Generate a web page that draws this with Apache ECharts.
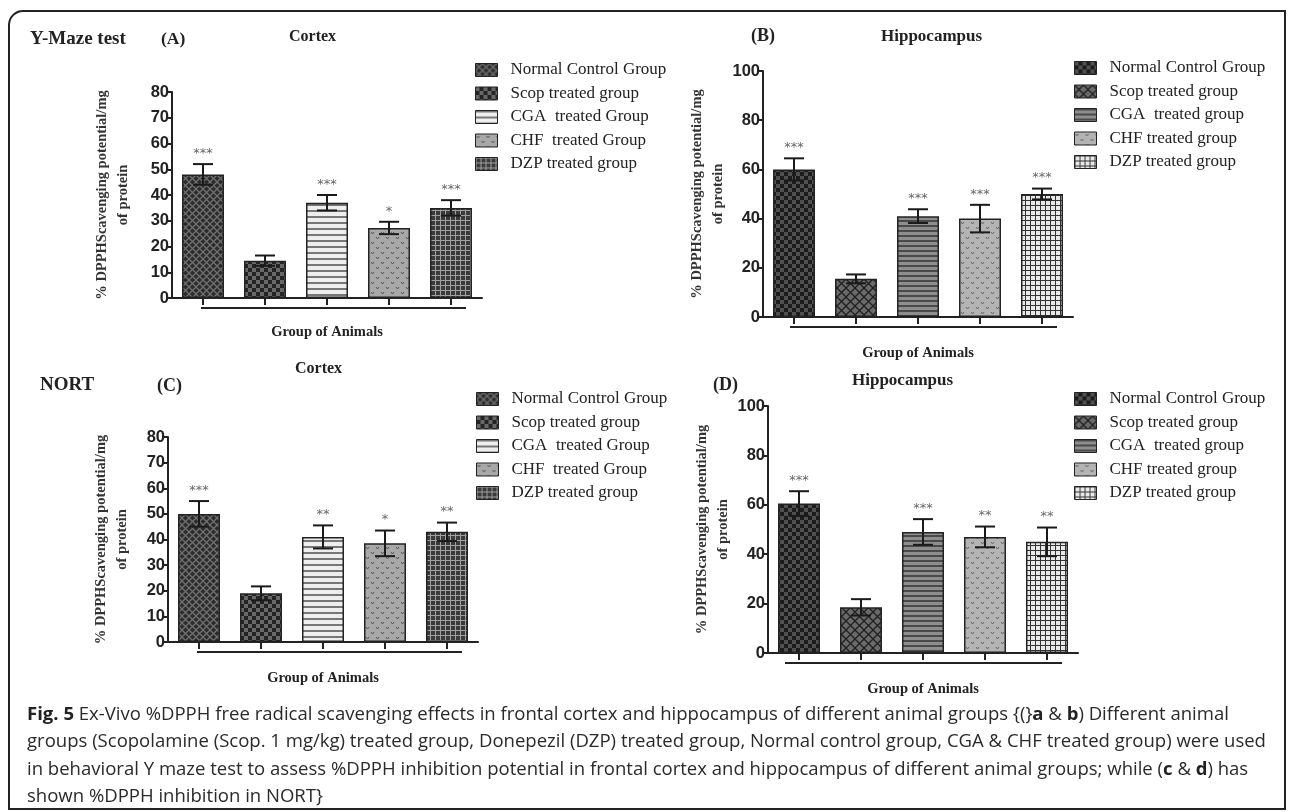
<!DOCTYPE html>
<html>
<head>
<meta charset="utf-8">
<script src="https://cdn.jsdelivr.net/npm/echarts@6/dist/echarts.min.js"></script>
<style>
  html, body { margin: 0; background: #fff; }
  #chart { width: 1295px; height: 812px; }
</style>
</head>
<body>
<div id="chart"></div>
<script>
// group names as printed in each legend
const cortexGroups = ['Normal Control Group', 'Scop treated group', 'CGA  treated Group', 'CHF  treated Group', 'DZP treated group'];
const hippoGroups = ['Normal Control Group', 'Scop treated group', 'CGA  treated group', 'CHF treated group', 'DZP treated group'];

// (A) Y-maze, cortex
const ymazeCortexMean = [48, 14.5, 37, 27.2, 35];
const ymazeCortexErr = [4, 2, 3, 2.4, 3];
const ymazeCortexSig = ['***', '', '***', '*', '***'];
// (B) Y-maze, hippocampus
const ymazeHippoMean = [60, 15.5, 41, 40, 50];
const ymazeHippoErr = [4.5, 1.8, 2.8, 5.6, 2.2];
const ymazeHippoSig = ['***', '', '***', '***', '***'];
// (C) NORT, cortex
const nortCortexMean = [50, 19, 41, 38.5, 43];
const nortCortexErr = [5, 2.7, 4.5, 5, 3.6];
const nortCortexSig = ['***', '', '**', '*', '**'];
// (D) NORT, hippocampus
const nortHippoMean = [60.5, 18.5, 49, 47, 45];
const nortHippoErr = [5, 3.3, 5.2, 4.2, 5.8];
const nortHippoSig = ['***', '', '***', '**', '**'];

const cortexTicks = {max: 80, interval: 10};
const hippoTicks = {max: 100, interval: 20};

const captionLines = [
  '{b|Fig. 5} Ex-Vivo %DPPH free radical scavenging effects in frontal cortex and hippocampus of different animal groups {(}{b|a} & {b|b}) Different animal',
  'groups (Scopolamine (Scop. 1 mg/kg) treated group, Donepezil (DZP) treated group, Normal control group, CGA & CHF treated group) were used',
  'in behavioral Y maze test to assess %DPPH inhibition potential in frontal cortex and hippocampus of different animal groups; while ({b|c} & {b|d}) has',
  'shown %DPPH inhibition in NORT}'
];

// --- fill patterns drawn on small canvases ---
function pat(w, h, draw) {
  const c = document.createElement('canvas');
  c.width = w; c.height = h;
  const g = c.getContext('2d');
  draw(g, w, h);
  return {image: c, repeat: 'repeat'};
}
const crosshatch = (bg, fg, s) => pat(s, s, (g) => {
  g.fillStyle = bg; g.fillRect(0, 0, s, s);
  g.strokeStyle = fg; g.lineWidth = 1.3;
  g.beginPath();
  g.moveTo(0, 0); g.lineTo(s, s);
  g.moveTo(s, 0); g.lineTo(0, s);
  g.stroke();
});
const checker = (a, b, s) => pat(2 * s, 2 * s, (g) => {
  g.fillStyle = a; g.fillRect(0, 0, 2 * s, 2 * s);
  g.fillStyle = b; g.fillRect(0, 0, s, s); g.fillRect(s, s, s, s);
});
const hstripe = (bg, fg, p, lw) => pat(4, p, (g) => {
  g.fillStyle = bg; g.fillRect(0, 0, 4, p);
  g.fillStyle = fg; g.fillRect(0, 0, 4, lw);
});
const vdots = (bg, fg) => pat(10, 10, (g) => {
  g.fillStyle = bg; g.fillRect(0, 0, 10, 10);
  g.strokeStyle = fg; g.lineWidth = 1;
  g.beginPath();
  g.moveTo(1, 2); g.lineTo(2.5, 4); g.lineTo(4, 2);
  g.moveTo(6, 7); g.lineTo(7.5, 9); g.lineTo(9, 7);
  g.stroke();
});
const grid = (bg, fg, s) => pat(s, s, (g) => {
  g.fillStyle = bg; g.fillRect(0, 0, s, s);
  g.fillStyle = fg; g.fillRect(0, 0, s, 1); g.fillRect(0, 0, 1, s);
});

const cortexFills = [
  crosshatch('#2c2c2c', '#707070', 7),
  checker('#242424', '#686868', 4),
  hstripe('#eeeeee', '#777777', 6, 2),
  vdots('#a8a8a8', '#555555'),
  grid('#3a3a3a', '#a0a0a0', 5)
];
const hippoFills = [
  checker('#1c1c1c', '#505050', 4),
  crosshatch('#6a6a6a', '#202020', 9),
  hstripe('#8e8e8e', '#4a4a4a', 5, 2),
  vdots('#b4b4b4', '#666666'),
  grid('#e8e8e8', '#333333', 5)
];

const panels = [
  {names: cortexGroups, fills: cortexFills, mean: ymazeCortexMean, err: ymazeCortexErr, sig: ymazeCortexSig, ticks: cortexTicks,
   grid: {left: 172, top: 92, width: 310, height: 206}, legend: {left: 475, top: 61}, nameGap: 38, ulLeft: 2},
  {names: hippoGroups, fills: hippoFills, mean: ymazeHippoMean, err: ymazeHippoErr, sig: ymazeHippoSig, ticks: hippoTicks,
   grid: {left: 763, top: 71, width: 310, height: 246}, legend: {left: 1074, top: 59}, nameGap: 31, ulLeft: 4},
  {names: cortexGroups, fills: cortexFills, mean: nortCortexMean, err: nortCortexErr, sig: nortCortexSig, ticks: cortexTicks,
   grid: {left: 168, top: 437, width: 310, height: 205}, legend: {left: 476, top: 390}, nameGap: 35, ulLeft: 2},
  {names: hippoGroups, fills: hippoFills, mean: nortHippoMean, err: nortHippoErr, sig: nortHippoSig, ticks: hippoTicks,
   grid: {left: 768, top: 406, width: 310, height: 247}, legend: {left: 1074, top: 390}, nameGap: 31, ulLeft: 14}
];

const ink = '#222';
const serif = 'Liberation Serif';
const yName = '% DPPHScavenging potential/mg\nof protein';

const grids = [], xAxes = [], yAxes = [], legends = [], series = [];
panels.forEach((p, k) => {
  grids.push(p.grid);
  xAxes.push({
    type: 'category', gridIndex: k, data: p.names,
    axisLine: {lineStyle: {color: ink, width: 2}},
    axisTick: {show: true, interval: 0, alignWithLabel: true, length: 7, lineStyle: {color: ink, width: 2}},
    axisLabel: {show: false, interval: 0},
    name: 'Group of Animals', nameLocation: 'middle', nameGap: k === 0 ? 27 : 29,
    nameTextStyle: {fontFamily: serif, fontWeight: 'bold', fontSize: 14.5, color: ink}
  });
  yAxes.push({
    type: 'value', gridIndex: k, min: 0, max: p.ticks.max, interval: p.ticks.interval,
    axisLine: {show: true, lineStyle: {color: ink, width: 2}},
    axisTick: {show: true, length: 5, lineStyle: {color: ink, width: 2}},
    splitLine: {show: false},
    axisLabel: {fontFamily: 'Liberation Sans', fontWeight: 'bold', fontSize: 16.5, color: ink, margin: 3},
    name: yName, nameLocation: 'middle', nameRotate: 90, nameGap: p.nameGap,
    nameTextStyle: {fontFamily: serif, fontWeight: 'bold', fontSize: 14.5, lineHeight: 21, color: '#333'}
  });
  legends.push({
    orient: 'vertical', left: p.legend.left, top: p.legend.top, padding: 0,
    itemWidth: 22, itemHeight: 13, itemGap: 5.5, selectedMode: false, icon: 'rect',
    textStyle: {fontFamily: serif, fontSize: 17, lineHeight: 18, color: ink, padding: [0, 0, 0, 8]},
    data: p.names.map((n, i) => ({name: n, itemStyle: {color: p.fills[i], borderColor: ink, borderWidth: 1}}))
  });
  p.names.forEach((n, i) => {
    series.push({
      type: 'bar', name: n, xAxisIndex: k, yAxisIndex: k, barWidth: 42, barGap: '-100%', silent: true,
      data: p.mean.map((v, j) => (j === i ? v : '-')),
      itemStyle: {color: p.fills[i], borderColor: ink, borderWidth: 1.5}
    });
  });
  series.push({
    type: 'custom', xAxisIndex: k, yAxisIndex: k, z: 10, silent: true,
    data: p.mean.map((v, j) => [j, v, p.err[j]]),
    renderItem: (params, api) => {
      const x = api.value(0), m = api.value(1), e = api.value(2);
      const top = api.coord([x, m + e]);
      const bot = api.coord([x, m - e]);
      const hw = 10;
      const st = {stroke: '#1a1a1a', lineWidth: 2};
      return {type: 'group', children: [
        {type: 'line', shape: {x1: top[0], y1: top[1], x2: bot[0], y2: bot[1]}, style: st},
        {type: 'line', shape: {x1: top[0] - hw, y1: top[1], x2: top[0] + hw, y2: top[1]}, style: st},
        {type: 'line', shape: {x1: bot[0] - hw, y1: bot[1], x2: bot[0] + hw, y2: bot[1]}, style: st},
        {type: 'text', style: {text: p.sig[params.dataIndex], x: top[0], y: top[1] - 4,
          align: 'center', verticalAlign: 'bottom', fill: '#666', font: '13px "DejaVu Sans"'}}
      ]};
    }
  });
});

const chart = echarts.init(document.getElementById('chart'), null, {renderer: 'canvas'});
chart.setOption({
  backgroundColor: '#fff',
  animation: false,
  grid: grids, xAxis: xAxes, yAxis: yAxes, legend: legends, series: series
});

const title = (text, x, y, size) => ({
  type: 'text', left: x, top: y - size * 0.6,
  style: {text: text, font: 'bold ' + size + 'px "' + serif + '"', fill: ink}
});

// caption size chosen so the longest line spans the frame like the original
const meas = document.createElement('canvas').getContext('2d');
meas.font = '100px "Open Sans"';
const capSize = 100 * 1240 / meas.measureText(captionLines[1]).width;

const graphics = [
  {type: 'rect', shape: {x: 9, y: 11, width: 1276, height: 798, r: [14, 0, 0, 0]},
   style: {fill: 'none', stroke: ink, lineWidth: 2}, silent: true},
  title('Y-Maze test', 30, 41, 19),
  title('(A)', 161, 41, 17.5),
  title('Cortex', 289, 38, 16),
  title('(B)', 751, 38, 18),
  title('Hippocampus', 881, 38, 17),
  title('NORT', 40, 387, 19),
  title('(C)', 157, 388, 18),
  title('Cortex', 295, 370, 16),
  title('(D)', 713, 387, 18),
  title('Hippocampus', 852, 382, 17),
  {type: 'text', left: 27, top: 701, silent: true, style: {
    text: captionLines.join('\n'),
    font: capSize + 'px "Open Sans"', fill: '#2a2a2a', lineHeight: 27.3,
    rich: {b: {fontWeight: 'bold', fontFamily: 'Open Sans', fontSize: capSize, fill: ink, lineHeight: 27.3}}
  }}
];

// bracket line under each x axis, spanning the group ticks
panels.forEach((p, k) => {
  const a = chart.convertToPixel({gridIndex: k}, [0, 0]);
  const b = chart.convertToPixel({gridIndex: k}, [p.names.length - 1, 0]);
  graphics.push({type: 'line', silent: true,
    shape: {x1: a[0] - p.ulLeft, y1: a[1] + 10, x2: b[0] + 15, y2: b[1] + 10},
    style: {stroke: ink, lineWidth: 2}});
});

chart.setOption({graphic: graphics});
</script>
</body>
</html>
